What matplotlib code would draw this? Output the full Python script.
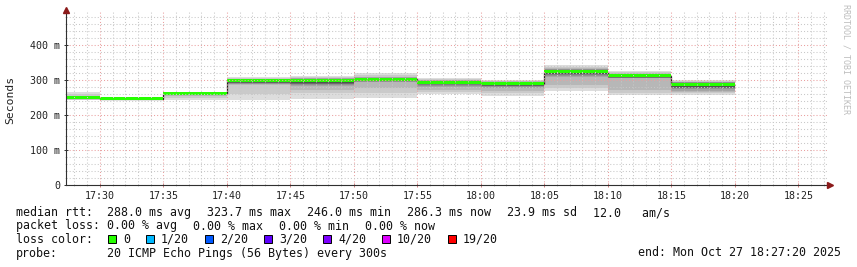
import numpy as np
import matplotlib.pyplot as plt
from matplotlib.patches import Rectangle

# Plot settings
plt.rcParams['font.family'] = 'DejaVu Sans Mono'

W, H = 857, 267  # figure size in px

# Time axis, minutes after 17:00 (5 min probe steps)
step_edges = [25, 30, 35, 40, 45, 50, 55, 60, 65, 70, 75, 80]
x_start = 27 + 20 / 60
x_end = 87 + 20 / 60

# 20 ping rtts (ms) for every step
rtt_1725 = [243, 245, 247, 248, 248, 248, 249, 249, 249, 249, 249, 250, 250, 250, 251, 251, 252, 255, 260, 266]
rtt_1730 = [244, 245, 245, 245, 246, 246, 246, 246, 246, 246, 246, 246, 246, 247, 247, 247, 247, 248, 248, 249]
rtt_1735 = [243, 250, 256, 258, 259, 259, 260, 260, 260, 261, 261, 261, 262, 262, 262, 263, 263, 264, 264, 265]
rtt_1740 = [243, 259, 287, 289, 290, 291, 292, 293, 294, 296, 300, 301, 301, 302, 302, 303, 303, 304, 305, 308]
rtt_1745 = [246, 262, 271, 284, 286, 288, 290, 292, 294, 296, 300, 301, 302, 302, 303, 304, 305, 306, 308, 311]
rtt_1750 = [250, 262, 278, 293, 295, 297, 298, 299, 300, 301, 304, 305, 306, 306, 307, 307, 308, 310, 314, 319]
rtt_1755 = [259, 266, 271, 280, 284, 287, 289, 291, 292, 293, 295, 296, 297, 297, 298, 298, 299, 300, 302, 305]
rtt_1800 = [254, 262, 270, 276, 279, 282, 284, 286, 288, 289, 291, 292, 292, 293, 293, 294, 295, 296, 298, 300]
rtt_1805 = [270, 278, 286, 310, 312, 314, 316, 318, 320, 321.7, 325.7, 327, 328, 329, 330, 331, 332, 334, 338, 343]
rtt_1810 = [257, 264, 271, 305, 306, 307, 308, 309, 310, 311, 313, 314, 315, 316, 316, 317, 318, 319, 322, 327]
rtt_1815 = [257, 262, 267, 270, 273, 276, 278, 280, 282, 284, 288.6, 289, 290, 291, 292, 293, 294, 295, 297, 300]

y_ticks = [0, 100, 200, 300, 400]
y_tick_labels = ['0', '100 m', '200 m', '300 m', '400 m']
x_ticks = [30, 35, 40, 45, 50, 55, 60, 65, 70, 75, 80, 85]
x_tick_labels = ['17:30', '17:35', '17:40', '17:45', '17:50', '17:55',
                 '18:00', '18:05', '18:10', '18:15', '18:20', '18:25']

rtt_items = ['288.0 ms avg', '323.7 ms max', '246.0 ms min', '286.3 ms now', '23.9 ms sd', '12.0   am/s']
loss_items = ['0.00 % avg', '0.00 % max', '0.00 % min', '0.00 % now']
loss_labels = ['0', '1/20', '2/20', '3/20', '4/20', '10/20', '19/20']
loss_colors = ['#26ff00', '#00b8ff', '#0059ff', '#5e00ff', '#7e00ff', '#dd00ff', '#ff0000']
probe_text = '20 ICMP Echo Pings (56 Bytes) every 300s'
end_text = 'end: Mon Oct 27 18:27:20 2025'


def fx(px):
    return px / W


def fy(py):
    return 1 - py / H


fig = plt.figure(figsize=(W / 100, H / 100), dpi=100)
fig.patch.set_facecolor('white')
ax = fig.add_axes([fx(66), fy(185), 762 / W, 173 / H])

# Smoke: pairs of pings from the outside in, darker towards the median
p = np.sort(np.array([rtt_1725, rtt_1730, rtt_1735, rtt_1740, rtt_1745, rtt_1750,
                      rtt_1755, rtt_1800, rtt_1805, rtt_1810, rtt_1815]), axis=1)
n = p.shape[1]
half = n // 2
for i in range(half):
    c = int(190 / half * (half - (i + 1))) + 50
    ax.stairs(p[:, n - 1 - i], step_edges, baseline=p[:, i], fill=True,
              color='#%02x%02x%02x' % (c, c, c), lw=0, zorder=1)

median = np.median(p, axis=1)
ax.stairs(median, step_edges, baseline=None, color='#202020', lw=0.9, zorder=1.5)
sw = 4.2  # half height of the loss coloured median band
ax.stairs(median + sw, step_edges, baseline=median - sw, fill=True,
          color=loss_colors[0], lw=0, zorder=2)

ax.set_xlim(x_start, x_end)
ax.set_ylim(0, 173 / 0.35)
ax.set_xticks(x_ticks)
ax.set_xticklabels(x_tick_labels)
ax.set_xticks(np.arange(28, 88), minor=True)
ax.set_yticks(y_ticks)
ax.set_yticklabels(y_tick_labels)
ax.set_yticks(np.arange(0, 494, 20), minor=True)

ax.set_axisbelow(False)
ax.grid(which='major', color='#eaa0a0', ls=(0, (1, 2)), lw=0.75)
ax.grid(which='minor', color='#c8c8c8', ls=(0, (1, 2)), lw=0.75)

for s in ['top', 'right']:
    ax.spines[s].set_visible(False)
for s in ['left', 'bottom']:
    ax.spines[s].set_color('#303030')
    ax.spines[s].set_linewidth(0.8)
    ax.spines[s].set_zorder(3)

ax.tick_params(which='major', length=3, width=0.7, direction='inout', color='#d08080',
               labelsize=7.2, labelcolor='#222222', pad=2.5)
ax.tick_params(which='minor', length=2, width=0.6, direction='inout', color='#c0c0c0')
ax.tick_params(axis='y', which='major', color='#303030')

# axis arrows
ax.plot([0], [1.01], marker='^', ms=4, color='#8b1a1a', transform=ax.transAxes,
        clip_on=False, zorder=5)
ax.plot([1.003], [0], marker='>', ms=4, color='#8b1a1a', transform=ax.transAxes,
        clip_on=False, zorder=5)

fig.text(fx(10.7), fy(99.7), 'Seconds', rotation=90, ha='center', va='center',
         fontsize=8.2, color='#222222')
fig.text(fx(846), fy(4), 'RRDTOOL / TOBI OETIKER', rotation=270, ha='center', va='top',
         fontsize=6.0, color='#bdbdbd')

# Legend block
CW = 7.0
GAP = 16
FS = 8.4
tc = '#111111'

fig.text(fx(16), fy(216), 'median rtt:', fontsize=FS, va='baseline', color=tc)
x = 107.3
for t in rtt_items:
    fig.text(fx(x), fy(216), t, fontsize=FS, va='baseline', color=tc)
    x += len(t) * CW + GAP

fig.text(fx(16), fy(229.5), 'packet loss:', fontsize=FS, va='baseline', color=tc)
x = 107.3
for t in loss_items:
    fig.text(fx(x), fy(229.5), t, fontsize=FS, va='baseline', color=tc)
    x += len(t) * CW + GAP

fig.text(fx(16), fy(243), 'loss color:', fontsize=FS, va='baseline', color=tc)
x = 108
for lab, col in zip(loss_labels, loss_colors):
    fig.add_artist(Rectangle((fx(x), fy(243)), 8 / W, 8 / H, transform=fig.transFigure,
                             facecolor=col, edgecolor='black', lw=0.7))
    fig.text(fx(x + 15), fy(243), lab, fontsize=FS, va='baseline', color=tc)
    x += 15 + len(lab) * CW + GAP

fig.text(fx(16), fy(256.5), 'probe:', fontsize=FS, va='baseline', color=tc)
fig.text(fx(107.3), fy(256.5), probe_text, fontsize=FS, va='baseline', color=tc)
fig.text(fx(638.3), fy(256.5), end_text, fontsize=FS, va='baseline', color=tc)

fig.savefig('out.png', dpi=100)
